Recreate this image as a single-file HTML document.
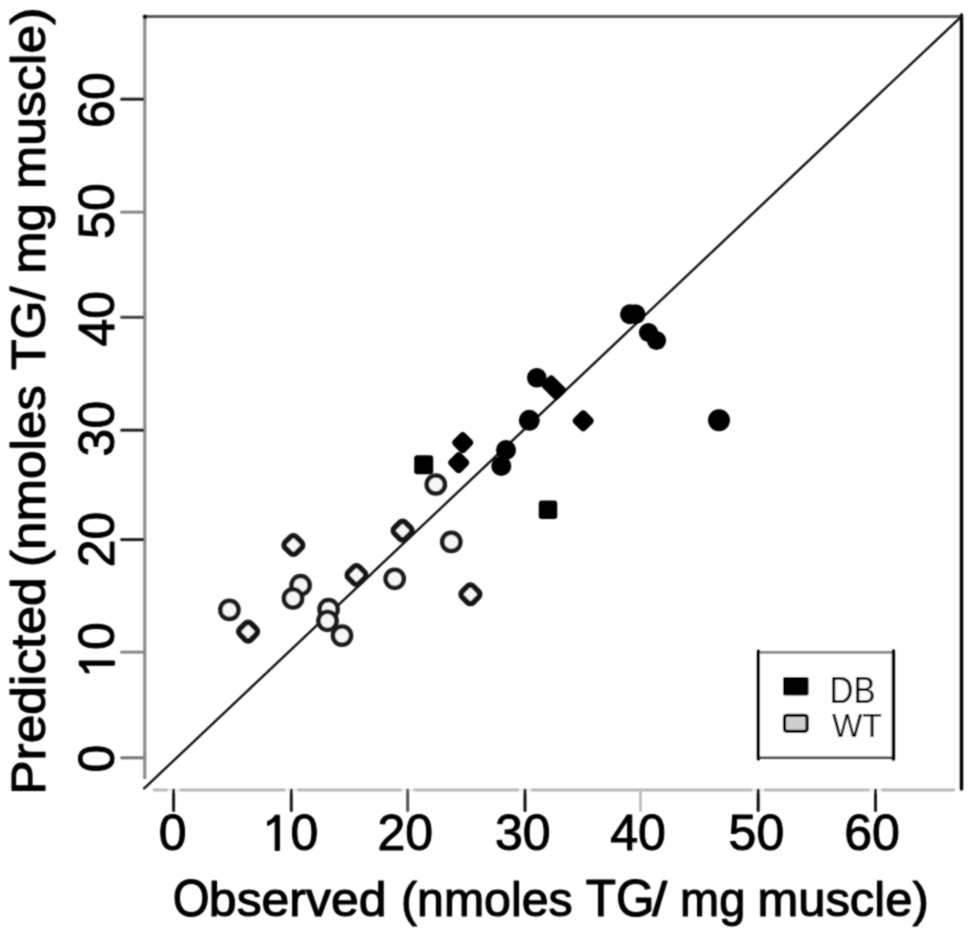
<!DOCTYPE html><html><head><meta charset="utf-8"><title>Observed vs Predicted</title><style>html,body{margin:0;padding:0;background:#fff;overflow:hidden}svg{display:block;will-change:transform}text{font-family:"Liberation Sans",sans-serif;fill:#000}</style></head><body>
<svg width="975" height="941" viewBox="0 0 975 941">
<defs><filter id="soft" x="0" y="0" width="975" height="941" filterUnits="userSpaceOnUse"><feConvolveMatrix order="3" kernelMatrix="1 2 1 2 6 2 1 2 1" divisor="18" edgeMode="duplicate"/></filter></defs>
<rect width="975" height="941" fill="#fff"/>
<g filter="url(#soft)">
<line x1="144.8" y1="16.5" x2="144.8" y2="779" stroke="#8c8c8c" stroke-width="3.2"/>
<line x1="144" y1="16.5" x2="962" y2="16.5" stroke="#5e5e5e" stroke-width="3"/>
<line x1="153" y1="790" x2="955" y2="790" stroke="#bababa" stroke-width="3.2"/>
<line x1="961.5" y1="15" x2="961.5" y2="789" stroke="#000" stroke-width="3.4" stroke-linecap="round"/>
<circle cx="145" cy="16.8" r="2.2" fill="#111"/>
<line x1="144.2" y1="788.4" x2="961.5" y2="16.3" stroke="#0a0a0a" stroke-width="2.3" stroke-linecap="round"/>
<rect x="167.6" y="787.5" width="12" height="5" fill="#fff" fill-opacity="0.75"/>
<line x1="173.6" y1="790" x2="173.6" y2="810.5" stroke="#1a1a1a" stroke-width="3" stroke-linecap="round"/>
<rect x="285.3" y="787.5" width="12" height="5" fill="#fff" fill-opacity="0.75"/>
<line x1="291.3" y1="790" x2="291.3" y2="810.5" stroke="#1a1a1a" stroke-width="3" stroke-linecap="round"/>
<rect x="401.7" y="787.5" width="12" height="5" fill="#fff" fill-opacity="0.75"/>
<line x1="407.7" y1="790" x2="407.7" y2="810.5" stroke="#5a5050" stroke-width="3" stroke-linecap="round"/>
<rect x="519" y="787.5" width="12" height="5" fill="#fff" fill-opacity="0.75"/>
<line x1="525" y1="790" x2="525" y2="810.5" stroke="#111" stroke-width="3" stroke-linecap="round"/>
<line x1="640.5" y1="790" x2="640.5" y2="810.5" stroke="#c4c0bc" stroke-width="3" stroke-linecap="round"/>
<rect x="752.2" y="787.5" width="12" height="5" fill="#fff" fill-opacity="0.75"/>
<line x1="758.2" y1="790" x2="758.2" y2="810.5" stroke="#111" stroke-width="3" stroke-linecap="round"/>
<rect x="869.5" y="787.5" width="12" height="5" fill="#fff" fill-opacity="0.75"/>
<line x1="875.5" y1="790" x2="875.5" y2="810.5" stroke="#1a1a1a" stroke-width="3" stroke-linecap="round"/>
<text x="158.69" y="850.4" font-size="50" stroke="#000" stroke-width="1.0">0</text>
<path d="M279.39 815.20 L275.19 815.20 L273.39 817.80 L270.99 819.80 L267.59 821.50 L267.59 825.60 L271.19 823.80 L275.19 820.80 L275.19 850.40 L279.39 850.40 Z" fill="#000" stroke="#000" stroke-width="1.0"/><text x="290.40" y="850.4" font-size="50" stroke="#000" stroke-width="1.0">0</text>
<text x="377.49" y="850.4" font-size="50" stroke="#000" stroke-width="1.0">2</text><text x="405.30" y="850.4" font-size="50" stroke="#000" stroke-width="1.0">0</text>
<text x="494.99" y="850.4" font-size="50" stroke="#000" stroke-width="1.0">3</text><text x="522.80" y="850.4" font-size="50" stroke="#000" stroke-width="1.0">0</text>
<text x="610.19" y="850.4" font-size="50" stroke="#000" stroke-width="1.0">4</text><text x="638.00" y="850.4" font-size="50" stroke="#000" stroke-width="1.0">0</text>
<text x="728.59" y="850.4" font-size="50" stroke="#000" stroke-width="1.0">5</text><text x="756.40" y="850.4" font-size="50" stroke="#000" stroke-width="1.0">0</text>
<text x="844.19" y="850.4" font-size="50" stroke="#000" stroke-width="1.0">6</text><text x="872.00" y="850.4" font-size="50" stroke="#000" stroke-width="1.0">0</text>
<line x1="120.4" y1="757.8" x2="144" y2="757.8" stroke="#777" stroke-width="3"/>
<line x1="120.4" y1="652.1" x2="144" y2="652.1" stroke="#888" stroke-width="3"/>
<line x1="120.4" y1="539.6" x2="144" y2="539.6" stroke="#222" stroke-width="3"/>
<line x1="120.4" y1="430.2" x2="144" y2="430.2" stroke="#222" stroke-width="3"/>
<line x1="120.4" y1="317.3" x2="144" y2="317.3" stroke="#444" stroke-width="3"/>
<line x1="120.4" y1="212.1" x2="144" y2="212.1" stroke="#888" stroke-width="3"/>
<line x1="120.4" y1="99.2" x2="144" y2="99.2" stroke="#222" stroke-width="3"/>
<g transform="translate(114.4 758.6) rotate(-90)"><text x="-13.91" y="0" font-size="50" stroke="#000" stroke-width="1.0">0</text></g>
<g transform="translate(114.4 650) rotate(-90)"><path d="M-11.01 -35.20 L-15.21 -35.20 L-17.01 -32.60 L-19.41 -30.60 L-22.81 -28.90 L-22.81 -24.80 L-19.21 -26.60 L-15.21 -29.60 L-15.21 0.00 L-11.01 0.00 Z" fill="#000" stroke="#000" stroke-width="1.0"/><text x="0.00" y="0" font-size="50" stroke="#000" stroke-width="1.0">0</text></g>
<g transform="translate(114.4 539.5) rotate(-90)"><text x="-27.81" y="0" font-size="50" stroke="#000" stroke-width="1.0">2</text><text x="0.00" y="0" font-size="50" stroke="#000" stroke-width="1.0">0</text></g>
<g transform="translate(114.4 428.6) rotate(-90)"><text x="-27.81" y="0" font-size="50" stroke="#000" stroke-width="1.0">3</text><text x="0.00" y="0" font-size="50" stroke="#000" stroke-width="1.0">0</text></g>
<g transform="translate(114.4 318.7) rotate(-90)"><text x="-27.81" y="0" font-size="50" stroke="#000" stroke-width="1.0">4</text><text x="0.00" y="0" font-size="50" stroke="#000" stroke-width="1.0">0</text></g>
<g transform="translate(114.4 211.1) rotate(-90)"><text x="-27.81" y="0" font-size="50" stroke="#000" stroke-width="1.0">5</text><text x="0.00" y="0" font-size="50" stroke="#000" stroke-width="1.0">0</text></g>
<g transform="translate(114.4 100.1) rotate(-90)"><text x="-27.81" y="0" font-size="50" stroke="#000" stroke-width="1.0">6</text><text x="0.00" y="0" font-size="50" stroke="#000" stroke-width="1.0">0</text></g>
<text x="172.64" y="915.6" font-size="51" textLength="36.84" lengthAdjust="spacingAndGlyphs" stroke="#000" stroke-width="1.1" stroke-linejoin="round">O</text>
<text x="208.88" y="915.6" font-size="48" textLength="177.60" lengthAdjust="spacingAndGlyphs" stroke="#000" stroke-width="1.1" stroke-linejoin="round">bserved</text>
<text x="400.98" y="915.6" font-size="48" textLength="171.64" lengthAdjust="spacingAndGlyphs" stroke="#000" stroke-width="1.1" stroke-linejoin="round">(nmoles</text>
<text x="585.73" y="915.6" font-size="51" textLength="68.79" lengthAdjust="spacingAndGlyphs" stroke="#000" stroke-width="1.1" stroke-linejoin="round">TG</text>
<text x="652.30" y="915.6" font-size="48" textLength="14.78" lengthAdjust="spacingAndGlyphs" stroke="#000" stroke-width="1.1" stroke-linejoin="round">/</text>
<text x="680.07" y="915.6" font-size="48" textLength="65.16" lengthAdjust="spacingAndGlyphs" stroke="#000" stroke-width="1.1" stroke-linejoin="round">mg</text>
<text x="757.44" y="915.6" font-size="48" textLength="171.25" lengthAdjust="spacingAndGlyphs" stroke="#000" stroke-width="1.1" stroke-linejoin="round">muscle)</text>
<text transform="translate(44.9 794.79) rotate(-90)" font-size="48" textLength="217.47" lengthAdjust="spacingAndGlyphs" stroke="#000" stroke-width="1.1" stroke-linejoin="round">Predicted</text>
<text transform="translate(44.9 567.00) rotate(-90)" font-size="48" textLength="181.93" lengthAdjust="spacingAndGlyphs" stroke="#000" stroke-width="1.1" stroke-linejoin="round">(nmoles</text>
<text transform="translate(44.9 369.94) rotate(-90)" font-size="48" textLength="83.34" lengthAdjust="spacingAndGlyphs" stroke="#000" stroke-width="1.1" stroke-linejoin="round">TG/</text>
<text transform="translate(44.9 273.77) rotate(-90)" font-size="48" textLength="70.51" lengthAdjust="spacingAndGlyphs" stroke="#000" stroke-width="1.1" stroke-linejoin="round">mg</text>
<text transform="translate(44.9 188.94) rotate(-90)" font-size="48" textLength="181.41" lengthAdjust="spacingAndGlyphs" stroke="#000" stroke-width="1.1" stroke-linejoin="round">muscle)</text>
<circle cx="435.8" cy="484.5" r="9.1" fill="#f6f6f6" stroke="#1c1c1c" stroke-width="4.5"/>
<rect x="394.85" y="522.85" width="15.5" height="15.5" rx="4" transform="rotate(45 402.6 530.6)" fill="#f6f6f6" stroke="#141414" stroke-width="5.5"/>
<rect x="285.65" y="537.25" width="15.5" height="15.5" rx="4" transform="rotate(45 293.4 545)" fill="#f6f6f6" stroke="#141414" stroke-width="5.5"/>
<circle cx="451.3" cy="541.9" r="9.1" fill="#f6f6f6" stroke="#1c1c1c" stroke-width="4.5"/>
<rect x="348.75" y="567.25" width="15.5" height="15.5" rx="4" transform="rotate(45 356.5 575)" fill="#f6f6f6" stroke="#141414" stroke-width="5.5"/>
<circle cx="394.7" cy="578.8" r="9.1" fill="#f6f6f6" stroke="#1c1c1c" stroke-width="4.5"/>
<circle cx="300.6" cy="585.2" r="9.1" fill="#f6f6f6" stroke="#1c1c1c" stroke-width="4.5"/>
<circle cx="293" cy="598.4" r="9.1" fill="#f6f6f6" stroke="#1c1c1c" stroke-width="4.5"/>
<rect x="462.65" y="586.55" width="15.5" height="15.5" rx="4" transform="rotate(45 470.4 594.3)" fill="#f6f6f6" stroke="#141414" stroke-width="5.5"/>
<circle cx="229.4" cy="609.9" r="9.1" fill="#f6f6f6" stroke="#1c1c1c" stroke-width="4.5"/>
<circle cx="328.6" cy="609.2" r="9.1" fill="#f6f6f6" stroke="#1c1c1c" stroke-width="4.5"/>
<circle cx="327.5" cy="620.8" r="9.1" fill="#f6f6f6" stroke="#1c1c1c" stroke-width="4.5"/>
<rect x="240.35" y="623.85" width="15.5" height="15.5" rx="4" transform="rotate(45 248.1 631.6)" fill="#f6f6f6" stroke="#141414" stroke-width="5.5"/>
<circle cx="342" cy="635.6" r="9.1" fill="#f6f6f6" stroke="#1c1c1c" stroke-width="4.5"/>
<circle cx="630" cy="314.2" r="10" fill="#000"/>
<circle cx="635.5" cy="314.2" r="10" fill="#000"/>
<circle cx="648.5" cy="332.5" r="9.6" fill="#000"/>
<circle cx="656.5" cy="340.5" r="9.6" fill="#000"/>
<circle cx="536.8" cy="377.7" r="9.8" fill="#000"/>
<rect x="542.2" y="379.6" width="23" height="16" rx="4" transform="rotate(45 553.7 387.6)" fill="#000"/>
<circle cx="529.3" cy="420.3" r="10.5" fill="#000"/>
<rect x="574.70" y="412.30" width="17" height="17" rx="4" transform="rotate(45 583.2 420.8)" fill="#000"/>
<circle cx="719" cy="420.3" r="11" fill="#000"/>
<rect x="454.20" y="434.20" width="17" height="17" rx="4" transform="rotate(45 462.7 442.7)" fill="#000"/>
<rect x="450.20" y="454.20" width="17" height="17" rx="4" transform="rotate(45 458.7 462.7)" fill="#000"/>
<rect x="414.20" y="455.20" width="19" height="19" rx="3" fill="#000"/>
<circle cx="506" cy="450" r="10" fill="#000"/>
<circle cx="501.3" cy="466" r="10" fill="#000"/>
<rect x="538.75" y="500.55" width="18.5" height="18.5" rx="3" fill="#000"/>
<rect x="758.4" y="652.3" width="135" height="105" fill="#fff" stroke="none"/>
<line x1="758.4" y1="652.3" x2="893.4" y2="652.3" stroke="#8a8a8a" stroke-width="2.8"/>
<line x1="758.4" y1="757.8" x2="893.4" y2="757.8" stroke="#4a4a4a" stroke-width="2.6"/>
<line x1="758.4" y1="651" x2="758.4" y2="759" stroke="#000" stroke-width="3.2" stroke-linecap="round"/>
<line x1="893.4" y1="651" x2="893.4" y2="759" stroke="#000" stroke-width="3.4" stroke-linecap="round"/>
<rect x="783" y="677" width="25.6" height="18.5" rx="2" fill="#000"/>
<rect x="784.5" y="715.3" width="22.6" height="16" rx="2.5" fill="#cfcfcf" stroke="#000" stroke-width="3.2"/>
<text x="829.5" y="703" font-size="36" textLength="46" lengthAdjust="spacingAndGlyphs" fill="#111">DB</text>
<text x="832" y="736.6" font-size="32.5" textLength="50" lengthAdjust="spacingAndGlyphs" fill="#111">WT</text>
</g>
</svg></body></html>
